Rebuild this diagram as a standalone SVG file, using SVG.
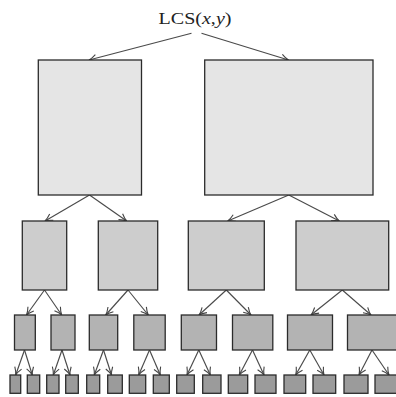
<svg xmlns="http://www.w3.org/2000/svg" width="396" height="397" viewBox="0 0 396 397">
<defs>
<marker id="ah" markerUnits="userSpaceOnUse" markerWidth="12" markerHeight="12" viewBox="-10 -6 12 12" refX="0" refY="0" orient="auto">
<path d="M-7.5,-3.6 Q-3,-0.6 0,0 Q-3,0.6 -7.5,3.6" fill="none" stroke="#444" stroke-width="1.1"/>
</marker>
</defs>
<style>
.n rect{stroke:#2b2b2b;stroke-width:1.3}
.l1 rect{fill:#e5e5e5}
.l2 rect{fill:#cdcdcd}
.l3 rect{fill:#b3b3b3}
.l4 rect{fill:#9b9b9b}
.e line{stroke:#4a4a4a;stroke-width:1.15;marker-end:url(#ah)}
.t{font-family:"Liberation Serif","Times New Roman",serif;font-size:17px;fill:#222}
</style>
<rect width="396" height="397" fill="#fff"/>
<g id="root"><text class="t" x="195" y="23.5" text-anchor="middle" textLength="73" lengthAdjust="spacingAndGlyphs">LCS(<tspan font-style="italic">x</tspan>,<tspan font-style="italic">y</tspan>)</text></g>
<g class="e" id="connectors">
<line x1="191.5" y1="33.3" x2="89" y2="60"/>
<line x1="201.5" y1="33.3" x2="288.5" y2="60"/>
<line x1="89.5" y1="195" x2="45" y2="221"/>
<line x1="89.5" y1="195" x2="126.7" y2="221"/>
<line x1="288.8" y1="195" x2="227.7" y2="221"/>
<line x1="288.8" y1="195" x2="339.3" y2="221"/>
<line x1="44.5" y1="290" x2="26.5" y2="315"/>
<line x1="44.5" y1="290" x2="61.7" y2="315"/>
<line x1="128" y1="290" x2="105.7" y2="315"/>
<line x1="128" y1="290" x2="148.3" y2="315"/>
<line x1="226.3" y1="290" x2="199" y2="315"/>
<line x1="226.3" y1="290" x2="251" y2="315"/>
<line x1="342.3" y1="290" x2="311" y2="315"/>
<line x1="342.3" y1="290" x2="371" y2="315"/>
<line x1="24.5" y1="350" x2="15.7" y2="375"/>
<line x1="24.5" y1="350" x2="32.3" y2="375"/>
<line x1="62" y1="350" x2="53.3" y2="375"/>
<line x1="62" y1="350" x2="70" y2="375"/>
<line x1="103.5" y1="350" x2="94.3" y2="375"/>
<line x1="103.5" y1="350" x2="111.5" y2="375"/>
<line x1="149.5" y1="350" x2="138.7" y2="375"/>
<line x1="149.5" y1="350" x2="160.3" y2="375"/>
<line x1="198.8" y1="350" x2="187" y2="375"/>
<line x1="198.8" y1="350" x2="210.3" y2="375"/>
<line x1="252.5" y1="350" x2="239.3" y2="375"/>
<line x1="252.5" y1="350" x2="264" y2="375"/>
<line x1="309.8" y1="350" x2="295.7" y2="375"/>
<line x1="309.8" y1="350" x2="324" y2="375"/>
<line x1="372" y1="350" x2="359" y2="375"/>
<line x1="372" y1="350" x2="389" y2="375"/>
</g>
<g class="n l1">
<g id="a1"><rect x="38.3" y="60" width="103.2" height="135"/></g>
<g id="a2"><rect x="204.7" y="60" width="168.3" height="135"/></g>
</g>
<g class="n l2">
<g id="b1"><rect x="22.3" y="221" width="44.4" height="69"/></g>
<g id="b2"><rect x="98.3" y="221" width="59.4" height="69"/></g>
<g id="b3"><rect x="188.3" y="221" width="76" height="69"/></g>
<g id="b4"><rect x="296" y="221" width="92.7" height="69"/></g>
</g>
<g class="n l3">
<g id="c1"><rect x="14.5" y="315" width="20.8" height="35"/></g>
<g id="c2"><rect x="51" y="315" width="24" height="35"/></g>
<g id="c3"><rect x="89.3" y="315" width="28.4" height="35"/></g>
<g id="c4"><rect x="133.8" y="315" width="31.4" height="35"/></g>
<g id="c5"><rect x="181.3" y="315" width="35.2" height="35"/></g>
<g id="c6"><rect x="232.5" y="315" width="40.3" height="35"/></g>
<g id="c7"><rect x="287.5" y="315" width="45" height="35"/></g>
<g id="c8"><rect x="347.5" y="315" width="51" height="35"/></g>
</g>
<g class="n l4">
<g id="d1"><rect x="10" y="375" width="10.7" height="18.3"/></g>
<g id="d2"><rect x="27.3" y="375" width="12.4" height="18.3"/></g>
<g id="d3"><rect x="46.7" y="375" width="12.3" height="18.3"/></g>
<g id="d4"><rect x="65.7" y="375" width="12.6" height="18.3"/></g>
<g id="d5"><rect x="86.7" y="375" width="13" height="18.3"/></g>
<g id="d6"><rect x="107.7" y="375" width="14.6" height="18.3"/></g>
<g id="d7"><rect x="129.3" y="375" width="16.4" height="18.3"/></g>
<g id="d8"><rect x="153.3" y="375" width="16" height="18.3"/></g>
<g id="d9"><rect x="176.7" y="375" width="17.6" height="18.3"/></g>
<g id="d10"><rect x="202.7" y="375" width="18.3" height="18.3"/></g>
<g id="d11"><rect x="228.3" y="375" width="19.4" height="18.3"/></g>
<g id="d12"><rect x="255" y="375" width="21" height="18.3"/></g>
<g id="d13"><rect x="284" y="375" width="21.7" height="18.3"/></g>
<g id="d14"><rect x="313" y="375" width="22.7" height="18.3"/></g>
<g id="d15"><rect x="344" y="375" width="24" height="18.3"/></g>
<g id="d16"><rect x="375" y="375" width="26" height="18.3"/></g>
</g>
</svg>
